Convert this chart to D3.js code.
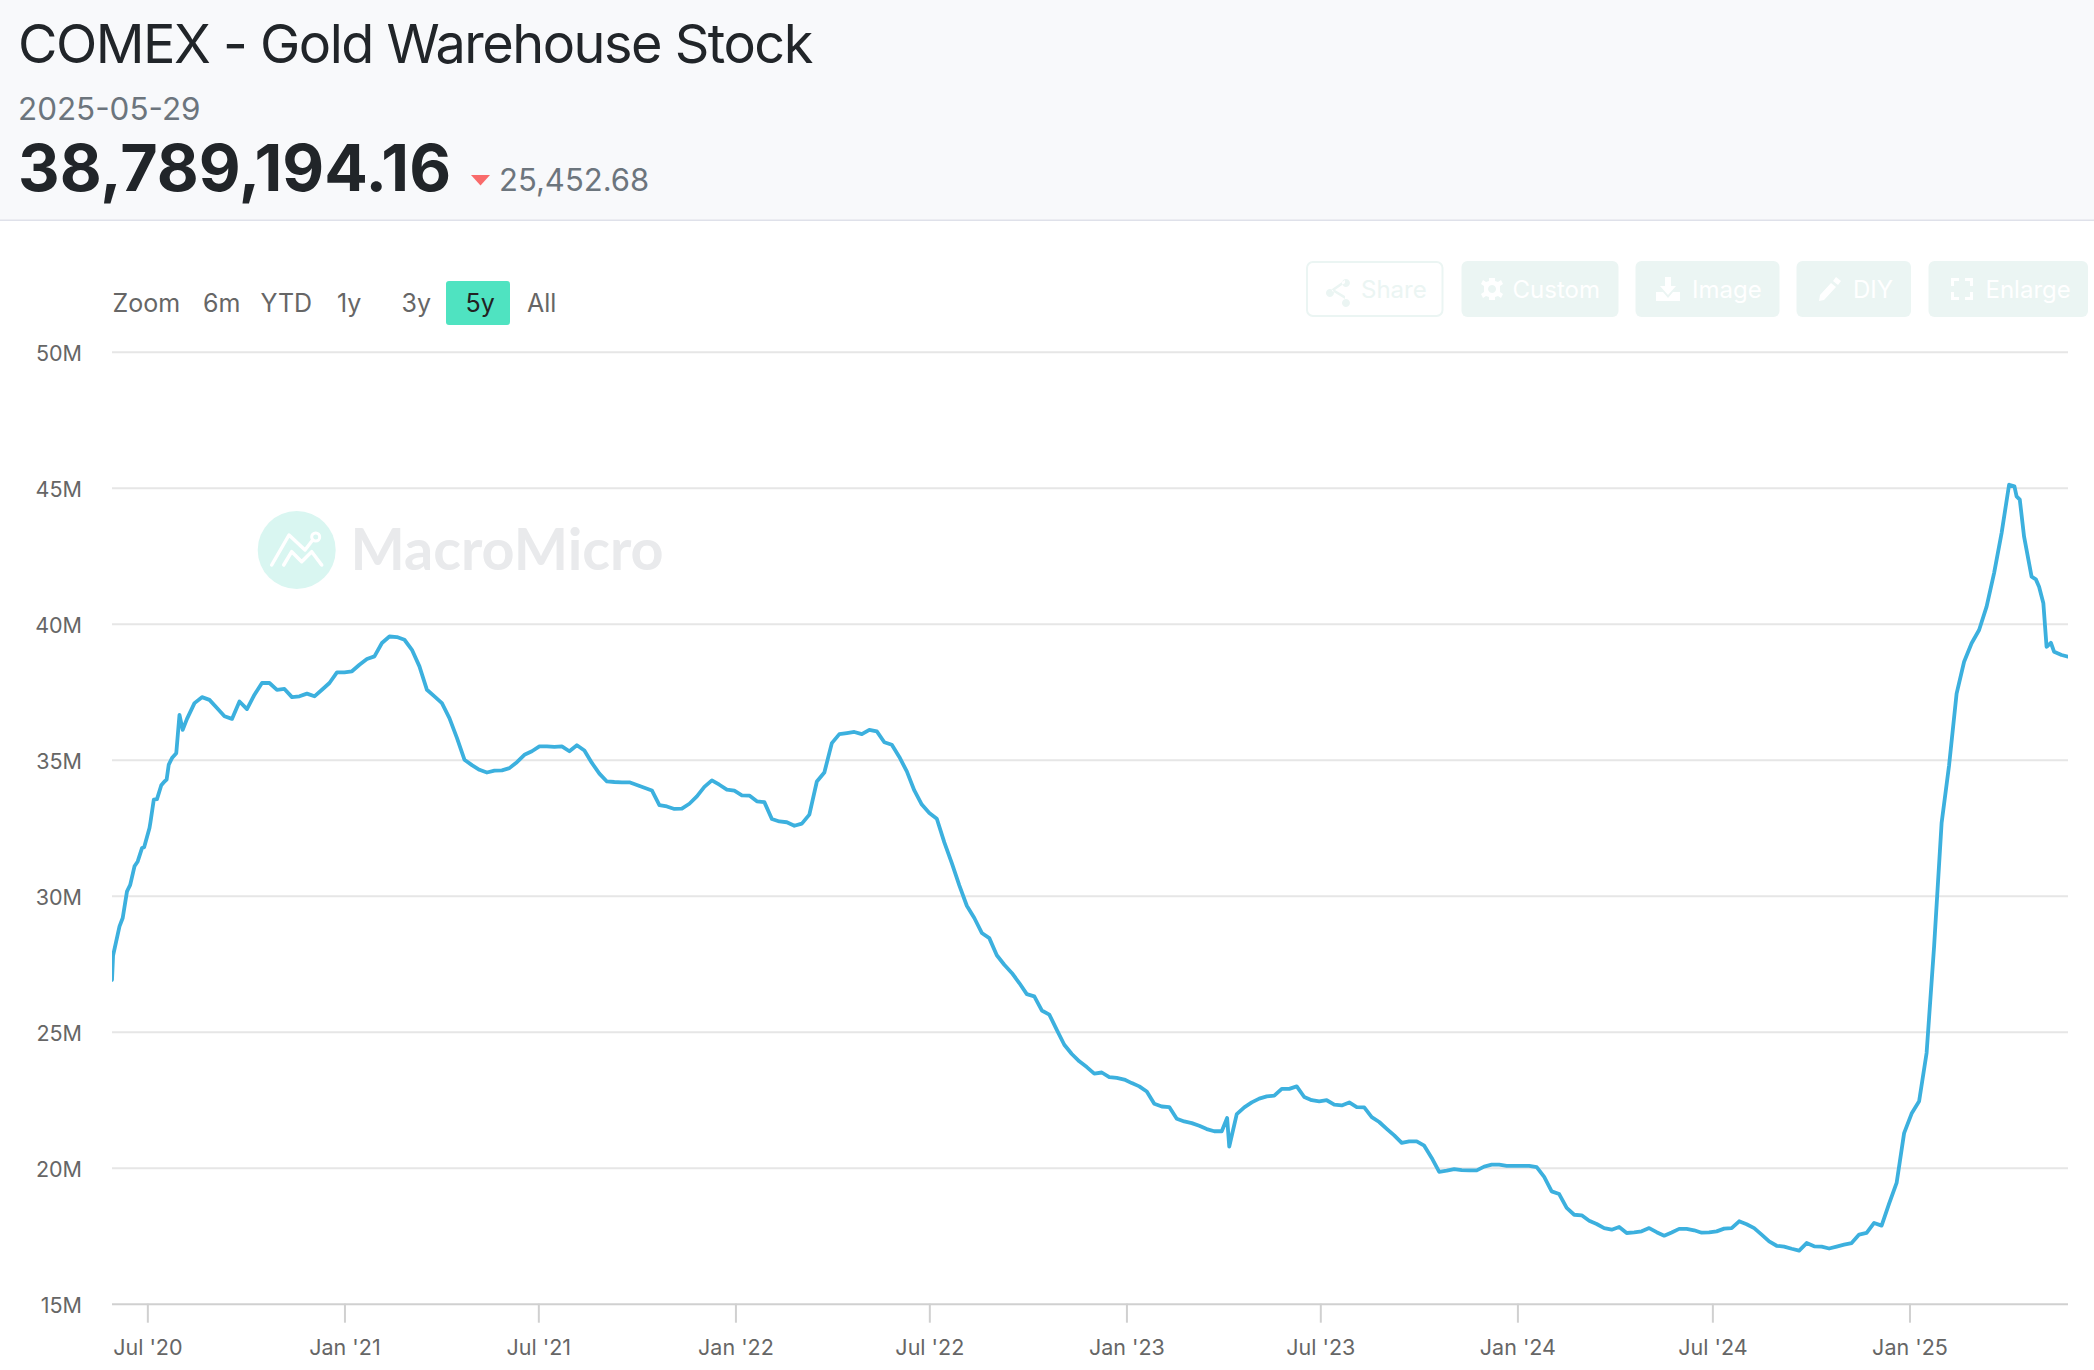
<!DOCTYPE html>
<html lang="en">
<head>
    <meta charset="UTF-8">
    <title>COMEX - Gold Warehouse Stock</title>
    <script src="https://d3js.org/d3.v7.min.js"></script>
    <style>
        html, body { margin: 0; padding: 0; background: #fff; }
        svg { display: block; font-family: Inter, "Noto Sans", sans-serif; }
        .tick text { font-family: Inter, sans-serif; }
    </style>
</head>
<body>

<svg></svg>

<script>
    const titleText = "COMEX - Gold Warehouse Stock";
    const latestDate = "2025-05-29";
    const latestValue = "38,789,194.16";
    const latestChange = "25,452.68";

    const rangeLabels = ["Zoom", "6m", "YTD", "1y", "3y", "5y", "All"];
    const toolLabels = ["Share", "Custom", "Image", "DIY", "Enlarge"];

    const yTicks = [15, 20, 25, 30, 35, 40, 45, 50];
    const xTickDates = ["2020-07-01", "2021-01-01", "2021-07-01", "2022-01-01", "2022-07-01",
                        "2023-01-01", "2023-07-01", "2024-01-01", "2024-07-01", "2025-01-01"];

    const startDate = "2020-05-29";
    const endDate = "2025-05-29";

    // weekly readings from startDate, in millions
    const weeklyValues = [
        26.9, 28.87, 30.16, 31.08, 31.75, 32.49, 33.55, 34.2, 35.06, 36.65,
        36.5, 37.08, 37.3, 37.2, 36.9, 36.6, 36.5, 37.14, 36.86, 37.39,
        37.82, 37.82, 37.57, 37.6, 37.3, 37.33, 37.43, 37.33, 37.57, 37.82,
        38.21, 38.21, 38.25, 38.49, 38.7, 38.8, 39.29, 39.53, 39.51, 39.41,
        39.04, 38.43, 37.57, 37.33, 37.08, 36.53, 35.8, 35.0, 34.8, 34.63,
        34.53, 34.6, 34.61, 34.69, 34.91, 35.18, 35.31, 35.49, 35.49, 35.47,
        35.49, 35.31, 35.53, 35.34, 34.88, 34.49, 34.2, 34.18, 34.17, 34.17,
        34.07, 33.97, 33.87, 33.33, 33.28, 33.19, 33.2, 33.38, 33.65, 34.0,
        34.24, 34.08, 33.9, 33.86, 33.69, 33.68, 33.47, 33.44, 32.82, 32.73,
        32.7, 32.57, 32.65, 32.98, 34.2, 34.53, 35.61, 35.94, 35.98, 36.02,
        35.94, 36.1, 36.04, 35.64, 35.55, 35.1, 34.57, 33.87, 33.35, 33.04,
        32.83, 31.96, 31.2, 30.38, 29.63, 29.18, 28.63, 28.44, 27.81, 27.46,
        27.16, 26.79, 26.38, 26.3, 25.78, 25.63, 25.07, 24.52, 24.18, 23.91,
        23.7, 23.46, 23.5, 23.33, 23.3, 23.24, 23.11, 22.99, 22.8, 22.35,
        22.25, 22.23, 21.8, 21.7, 21.64, 21.54, 21.42, 21.34, 21.34, 20.78,
        21.97, 22.22, 22.4, 22.54, 22.62, 22.65, 22.9, 22.9, 22.99, 22.6,
        22.48, 22.44, 22.48, 22.32, 22.29, 22.4, 22.23, 22.22, 21.86, 21.68,
        21.43, 21.19, 20.91, 20.97, 20.97, 20.81, 20.36, 19.85, 19.89, 19.95,
        19.91, 19.9, 19.9, 20.04, 20.11, 20.11, 20.07, 20.07, 20.07, 20.07,
        20.02, 19.66, 19.13, 19.03, 18.52, 18.27, 18.25, 18.05, 17.93, 17.78,
        17.72, 17.82, 17.6, 17.62, 17.66, 17.78, 17.63, 17.5, 17.62, 17.75,
        17.75, 17.7, 17.61, 17.62, 17.66, 17.76, 17.78, 18.03, 17.92, 17.78,
        17.54, 17.29, 17.13, 17.1, 17.02, 16.95, 17.23, 17.11, 17.1, 17.03,
        17.1, 17.17, 17.23, 17.54, 17.6, 17.97, 17.87, 18.68, 19.44, 21.27,
        21.99, 22.44, 24.22, 28.14, 32.67, 34.8, 37.43, 38.6, 39.28, 39.77,
        40.63, 41.86, 43.33, 45.11, 44.68, 43.2, 41.73, 41.36, 39.15, 38.97,
        38.85
    ];

    // readings between the weekly ones: sharp moves a weekly step would miss
    const extraDates = ["2020-05-30", "2020-06-08", "2020-06-15", "2020-06-22", "2020-06-28",
                        "2020-07-04", "2020-07-07", "2020-07-14", "2020-07-19", "2020-07-21",
                        "2020-07-28", "2020-08-03", "2023-04-05", "2025-04-09", "2025-04-14",
                        "2025-04-29", "2025-05-06", "2025-05-10", "2025-05-13", "2025-05-29"];
    const extraValues = [27.8, 29.18, 30.4, 31.26, 31.78,
                         32.73, 33.53, 34.06, 34.27, 34.82,
                         35.24, 36.1, 21.83, 45.05, 44.56,
                         41.63, 40.75, 39.18, 39.3, 38.79];

    const parseDate = d3.utcParse("%Y-%m-%d");

    const weeklyDates = d3.utcDay.range(parseDate(startDate), parseDate(endDate), 7);
    const data = weeklyDates.map((d, i) => ({ date: d, value: weeklyValues[i] }))
        .concat(extraDates.map((d, i) => ({ date: parseDate(d), value: extraValues[i] })))
        .sort((a, b) => a.date - b.date);

    const width = 2094, height = 1370;
    const plot = { left: 112, right: 2068, top: 351.7, bottom: 1303.7 };

    const svg = d3.select("svg").attr("width", width).attr("height", height);

    // header band
    svg.append("rect").attr("width", width).attr("height", 220).attr("fill", "#f8f9fb");
    svg.append("rect").attr("y", 219.5).attr("width", width).attr("height", 1.5).attr("fill", "#dfe1ea");

    svg.append("text").attr("x", 18).attr("y", 62.5)
        .attr("font-size", 54).attr("letter-spacing", -1.5).attr("fill", "#212529")
        .text(titleText);
    svg.append("text").attr("x", 18).attr("y", 120)
        .attr("font-size", 31.4).attr("fill", "#6c757d")
        .text(latestDate);
    svg.append("text").attr("x", 18).attr("y", 190.5)
        .attr("font-size", 64.5).attr("font-weight", 700).attr("fill", "#212529")
        .text(latestValue);
    svg.append("path").attr("d", "M471,175L490,175L480.5,185.5Z").attr("fill", "#f96b6b");
    svg.append("text").attr("x", 499).attr("y", 190.5)
        .attr("font-size", 31).attr("fill", "#6c757d")
        .text(latestChange);

    // range selector
    const rangeX = [112.5, 203, 260.5, 337, 401.5, 465.5, 527];
    svg.append("rect").attr("x", 446).attr("y", 281).attr("width", 64).attr("height", 44)
        .attr("rx", 3).attr("fill", "#4fe3c1");
    svg.selectAll(".range").data(rangeLabels).enter().append("text")
        .attr("class", "range")
        .attr("x", (d, i) => rangeX[i])
        .attr("y", 311.5)
        .attr("font-size", 25)
        .attr("fill", d => d === "5y" ? "#222" : "#666")
        .text(d => d);

    // toolbar, drawn very faint like the disabled buttons
    const toolBoxes = [[1306, 1443.5], [1461.5, 1618.5], [1635.5, 1779.5], [1796.5, 1911], [1928.5, 2088]];
    const toolTextX = [1361, 1512.5, 1692, 1853, 1985.5];
    const toolIconX = [1338, 1492, 1668, 1830, 1962];
    const toolIcons = [
        "M8,-10A4,4 0 1,1 7.9,-10ZM8,10A4,4 0 1,1 7.9,10ZM-8,0A4,4 0 1,1 -8.1,0ZM-6,0L7,-9L7,-6L-3,1L7,7L7,10L-6,2Z",
        "M-3,-11L3,-11L3,-8L6,-7L9,-9L11,-5L8,-3L8,3L11,5L9,9L6,7L3,8L3,11L-3,11L-3,8L-6,7L-9,9L-11,5L-8,3L-8,-3L-11,-5L-9,-9L-6,-7L-3,-8ZM0,-4A4,4 0 1,0 0.1,-4Z",
        "M-3,-12L3,-12L3,-3L8,-3L0,6L-8,-3L-3,-3ZM-12,3L-5,3L0,9L5,3L12,3L12,12L-12,12Z",
        "M6,-12L11,-8L8,-4L3,-8ZM1,-6L6,-2L-6,11L-11,12L-10,6Z",
        "M-11,-11L-3,-11L-3,-8L-8,-8L-8,-3L-11,-3ZM3,-11L11,-11L11,-3L8,-3L8,-8L3,-8ZM-11,3L-8,3L-8,8L-3,8L-3,11L-11,11ZM8,3L11,3L11,11L3,11L3,8L8,8Z"
    ];
    const tools = svg.selectAll(".tool").data(toolLabels).enter().append("g").attr("class", "tool");
    tools.append("rect")
        .attr("x", (d, i) => toolBoxes[i][0] + (i === 0 ? 1 : 0))
        .attr("y", (d, i) => i === 0 ? 262 : 261)
        .attr("width", (d, i) => toolBoxes[i][1] - toolBoxes[i][0] - (i === 0 ? 2 : 0))
        .attr("height", (d, i) => i === 0 ? 54 : 56)
        .attr("rx", 6)
        .attr("fill", (d, i) => i === 0 ? "#fff" : "#ebf5f3")
        .attr("stroke", (d, i) => i === 0 ? "#ebf5f3" : "none")
        .attr("stroke-width", 2);
    tools.append("path")
        .attr("transform", (d, i) => `translate(${toolIconX[i]},289)`)
        .attr("d", (d, i) => toolIcons[i])
        .attr("fill-rule", "evenodd")
        .attr("fill", (d, i) => i === 0 ? "#ebf5f3" : "#fff");
    tools.append("text")
        .attr("x", (d, i) => toolTextX[i])
        .attr("y", 298)
        .attr("font-size", 24)
        .attr("fill", (d, i) => i === 0 ? "#ebf5f3" : "#fff")
        .text(d => d);

    // scales
    const x = d3.scaleUtc()
        .domain([parseDate(startDate), parseDate(endDate)])
        .range([plot.left, plot.right]);
    const y = d3.scaleLinear()
        .domain([15, 50])
        .range([plot.bottom, plot.top]);

    // watermark
    const mark = svg.append("g").attr("transform", "translate(296.7,550)");
    mark.append("circle").attr("r", 39).attr("fill", "#d9f6f1");
    mark.append("path")
        .attr("d", "M-25,15L-7.7,-15L8.3,0L16,-10M-13,15L-5,1.7L5,11.7L15,1.7L25,15")
        .attr("fill", "none").attr("stroke", "#fff").attr("stroke-width", 3.5)
        .attr("stroke-linecap", "round").attr("stroke-linejoin", "round");
    mark.append("circle").attr("cx", 19).attr("cy", -13).attr("r", 4)
        .attr("fill", "none").attr("stroke", "#fff").attr("stroke-width", 3);
    svg.append("text").attr("x", 350.5).attr("y", 570)
        .attr("font-size", 57.5).attr("font-weight", 700)
        .attr("font-family", "Lato, sans-serif").attr("fill", "#e9eaec")
        .text("MacroMicro");

    // y axis with grid lines
    const yAxis = d3.axisLeft(y)
        .tickValues(yTicks)
        .tickSize(plot.right - plot.left)
        .tickPadding(30)
        .tickFormat(d => d + "M");
    const yGroup = svg.append("g")
        .attr("transform", `translate(${plot.right},0)`)
        .call(yAxis);
    yGroup.select(".domain").remove();
    yGroup.selectAll(".tick line").attr("stroke", d => d === 15 ? "#d0d0d0" : "#e6e6e6").attr("stroke-width", 2);
    yGroup.selectAll(".tick text").attr("font-size", 21.5).attr("dy", "0.4em").attr("fill", "#666");

    // x axis
    const xAxis = d3.axisBottom(x)
        .tickValues(xTickDates.map(parseDate))
        .tickSize(19)
        .tickPadding(17)
        .tickFormat(d3.utcFormat("%b '%y"));
    const xGroup = svg.append("g")
        .attr("transform", `translate(0,${plot.bottom})`)
        .call(xAxis);
    xGroup.select(".domain").remove();
    xGroup.selectAll(".tick line").attr("stroke", "#d0d0d0").attr("stroke-width", 2);
    xGroup.selectAll(".tick text").attr("font-size", 21.5).attr("fill", "#666");

    // series
    svg.append("clipPath").attr("id", "plot-clip").append("rect")
        .attr("x", plot.left).attr("y", plot.top)
        .attr("width", plot.right - plot.left).attr("height", plot.bottom - plot.top);

    const line = d3.line().x(d => x(d.date)).y(d => y(d.value));
    svg.append("path")
        .datum(data)
        .attr("clip-path", "url(#plot-clip)")
        .attr("fill", "none")
        .attr("stroke", "#3cb0de")
        .attr("stroke-width", 3.8)
        .attr("stroke-linejoin", "round")
        .attr("stroke-linecap", "round")
        .attr("d", line);
</script>

</body>
</html>
